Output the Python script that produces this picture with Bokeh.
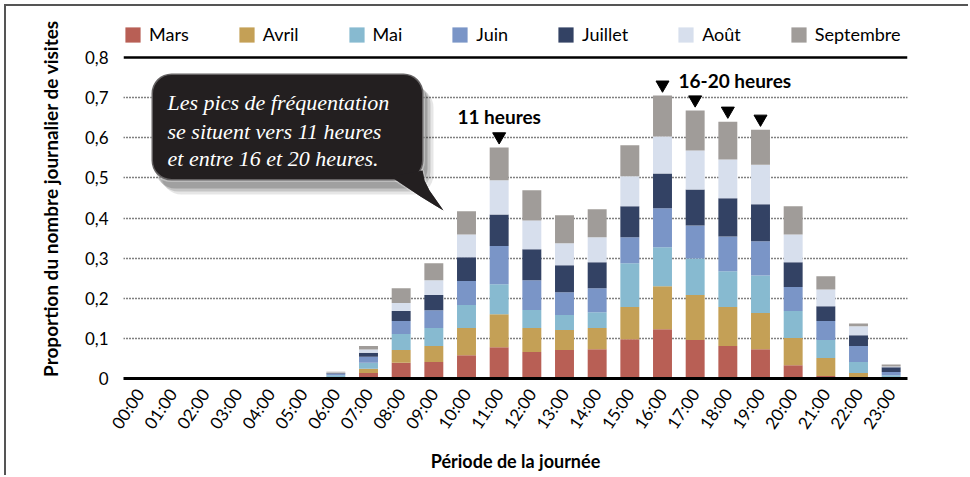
import numpy as np
from bokeh.plotting import figure
from bokeh.models import (ColumnDataSource, Range1d, LinearAxis, FixedTicker, Legend, LegendItem,
                          BoxAnnotation, PolyAnnotation, Label, Span)
from bokeh.core.properties import value
from bokeh.embed import file_html
from bokeh.resources import INLINE

# ---------------- data ----------------
hours = ["00:00", "01:00", "02:00", "03:00", "04:00", "05:00", "06:00", "07:00",
         "08:00", "09:00", "10:00", "11:00", "12:00", "13:00", "14:00", "15:00",
         "16:00", "17:00", "18:00", "19:00", "20:00", "21:00", "22:00", "23:00"]
months = ["Mars", "Avril", "Mai", "Juin", "Juillet", "Août", "Septembre"]
colors = ["#b85f55", "#c4a056", "#87bad0", "#7a95c7", "#334264", "#d7dfed", "#a09c99"]

mars      = [0.0005, 0.0005, 0.0005, 0.0005, 0.0002, 0.0005, 0.001, 0.014, 0.039, 0.041, 0.058, 0.078,
             0.066, 0.071, 0.073, 0.098, 0.123, 0.096, 0.081, 0.073, 0.033, 0.006, 0.002, 0.001]
avril     = [0.0005, 0.0005, 0.0005, 0.0005, 0.0001, 0.0005, 0.002, 0.010, 0.032, 0.040, 0.068, 0.082,
             0.060, 0.050, 0.053, 0.080, 0.107, 0.112, 0.097, 0.090, 0.068, 0.045, 0.012, 0.002]
mai       = [0.0005, 0.0005, 0.0005, 0.0005, 0.0001, 0.0005, 0.005, 0.015, 0.040, 0.045, 0.057, 0.075,
             0.045, 0.037, 0.039, 0.109, 0.097, 0.091, 0.089, 0.094, 0.067, 0.045, 0.027, 0.005]
juin      = [0.0005, 0.0005, 0.0005, 0.0005, 0.0001, 0.0005, 0.003, 0.015, 0.032, 0.044, 0.060, 0.095,
             0.074, 0.057, 0.060, 0.065, 0.097, 0.082, 0.087, 0.085, 0.060, 0.047, 0.040, 0.008]
juillet   = [0.0005, 0.0005, 0.0010, 0.0005, 0.0001, 0.0005, 0.002, 0.010, 0.025, 0.038, 0.059, 0.079,
             0.077, 0.067, 0.065, 0.077, 0.087, 0.090, 0.095, 0.092, 0.062, 0.037, 0.027, 0.012]
aout      = [0.0005, 0.0005, 0.0005, 0.0010, 0.0001, 0.0005, 0.002, 0.008, 0.020, 0.037, 0.057, 0.085,
             0.072, 0.055, 0.062, 0.075, 0.092, 0.097, 0.097, 0.099, 0.069, 0.042, 0.022, 0.002]
septembre = [0.0010, 0.0005, 0.0005, 0.0005, 0.0001, 0.0010, 0.002, 0.009, 0.037, 0.042, 0.058, 0.082,
             0.075, 0.070, 0.070, 0.077, 0.102, 0.100, 0.094, 0.087, 0.070, 0.033, 0.007, 0.005]

peak_hours = ["11:00", "16:00", "17:00", "18:00", "19:00"]

y_ticks = [0.0, 0.1, 0.2, 0.3, 0.4, 0.5, 0.6, 0.7, 0.8]
y_tick_labels = ["0", "0,1", "0,2", "0,3", "0,4", "0,5", "0,6", "0,7", "0,8"]

callout_lines = ["Les pics de fréquentation", "se situent vers 11 heures", "et entre 16 et 20 heures."]

# ---------------- figure ----------------
SANS = "Lato"
W, H = 964, 471
FL, FR, FB = 117, 901, 372       # frame edges in canvas px
Y80 = 51                          # canvas y of the 0,8 line
FT = 12                           # frame top (room for legend inside the frame)
n = len(hours)
YMAX = 0.8 * (FB - FT) / (FB - Y80)

p = figure(width=W, height=H, output_backend="svg", toolbar_location=None,
           x_range=Range1d(0, n), y_range=Range1d(0, YMAX),
           x_axis_location=None, min_border_left=FL, min_border_right=W - FR,
           min_border_top=FT, min_border_bottom=H - FB,
           styles={"margin-left": "4px", "margin-top": "4px",
                   "border-top": "2px solid #555", "border-left": "2px solid #555"})
p.outline_line_color = None
p.background_fill_color = "white"

def dx(canvas_x):
    return (canvas_x - FL) / (FR - FL) * n

def dy(canvas_y):
    return (FB - canvas_y) / (FB - Y80) * 0.8

xs = [i + 0.5 for i in range(n)]
data = dict(x=xs)
for m, v in zip(months, [mars, avril, mai, juin, juillet, aout, septembre]):
    data[m] = v
src = ColumnDataSource(data)
rs = p.vbar_stack(months, x="x", width=0.58, color=colors, line_color=None, source=src)

# y axis
yax = p.yaxis[0]
yax.ticker = FixedTicker(ticks=y_ticks)
yax.bounds = (0, 0.8)
yax.major_label_overrides = {t: l for t, l in zip(y_ticks, y_tick_labels)}
yax.axis_line_color = None
yax.major_tick_line_color = None
yax.minor_tick_line_color = None
yax.major_label_standoff = 9
yax.major_label_text_font = SANS
yax.major_label_text_font_size = "17px"
yax.major_label_text_color = "black"
yax.axis_label = "Proportion du nombre journalier de visites"
yax.axis_label_text_font = SANS
yax.axis_label_text_font_size = "19px"
yax.axis_label_text_font_style = "bold"
yax.axis_label_text_color = "black"
yax.axis_label_standoff = 20

p.xgrid.visible = False
p.ygrid.ticker = FixedTicker(ticks=y_ticks[1:-1])
p.ygrid.grid_line_color = "black"
p.ygrid.grid_line_dash = "1 2"
p.ygrid.grid_line_width = 1.3
p.add_layout(Span(location=0.8, dimension="width", line_color="black", line_width=2.5))

# x axis
p.extra_x_ranges = {"lab": Range1d(0, n)}
xax = LinearAxis(x_range_name="lab")
xax.ticker = FixedTicker(ticks=xs)
xax.major_label_overrides = {x: h for x, h in zip(xs, hours)}
xax.major_label_orientation = 0.98
xax.axis_line_color = "black"
xax.axis_line_width = 3
xax.major_tick_line_color = None
xax.minor_tick_line_color = None
xax.major_label_standoff = 6
xax.major_label_text_font = SANS
xax.major_label_text_font_size = "17px"
xax.major_label_text_color = "black"
xax.axis_label = "Période de la journée"
xax.axis_label_text_font = SANS
xax.axis_label_text_font_size = "18px"
xax.axis_label_text_font_style = "bold"
xax.axis_label_text_color = "black"
xax.axis_label_standoff = 9
p.add_layout(xax, "below")

# legend inside the (extended) frame, above the 0,8 line
legend = Legend(items=[LegendItem(label=m, renderers=[r]) for m, r in zip(months, rs)],
                orientation="horizontal", location=(0, FB - 39),
                padding=0, margin=0, spacing=48, glyph_width=19, glyph_height=19,
                label_height=19, label_standoff=7, border_line_color=None,
                background_fill_alpha=0, label_text_font=SANS, label_text_font_size="18px",
                label_text_color="black")
p.add_layout(legend, "center")

# peak markers
totals = [sum(v) for v in zip(mars, avril, mai, juin, juillet, aout, septembre)]
pk_x = [xs[hours.index(h)] for h in peak_hours]
pk_y = [totals[hours.index(h)] + 0.027 for h in peak_hours]
p.scatter(pk_x, pk_y, marker="inverted_triangle", size=13, color="black")

p.add_layout(Label(x=xs[hours.index("11:00")], y=dy(110), text="11 heures", text_align="center",
                   text_baseline="middle", text_font=SANS, text_font_size="19px",
                   text_font_style="bold", text_color="black"))
p.add_layout(Label(x=dx(672), y=dy(74), text="16-20 heures", text_align="left",
                   text_baseline="middle", text_font=SANS, text_font_size="19px",
                   text_font_style="bold", text_color="black"))

# callout bubble
bl, br, bt, bb = 145, 417, 67, 174   # canvas px
for off, a in [(10, 0.12), (7, 0.18), (4, 0.25)]:
    p.add_layout(BoxAnnotation(left=dx(bl + off), right=dx(br + off), top=dy(bt + off + 4),
                               bottom=dy(bb + off + 4), fill_color="#333333", fill_alpha=a,
                               line_color=None, border_radius=20))
tail_px = [(384, 170), (399, 180), (414, 190), (427, 198), (437, 204), (430, 194),
           (423, 184), (418, 174), (416, 164)]
tail_x = [dx(a) for a, b in tail_px]
tail_y = [dy(b) for a, b in tail_px]
p.add_layout(PolyAnnotation(xs=tail_x, ys=tail_y, fill_color="#231f20", fill_alpha=1,
                            line_color="white", line_width=3))
p.add_layout(BoxAnnotation(left=dx(bl), right=dx(br), top=dy(bt), bottom=dy(bb),
                           fill_color="#231f20", fill_alpha=1, line_color="white",
                           line_width=3, border_radius=20))
p.add_layout(PolyAnnotation(xs=tail_x, ys=tail_y, fill_color="#231f20", fill_alpha=1,
                            line_color=None))
for i, (line, yy) in enumerate(zip(callout_lines, [96, 125, 152])):
    p.add_layout(Label(x=dx(161), y=dy(yy), text=line, text_align="left", text_baseline="middle",
                       text_font="Liberation Serif", text_font_style="italic",
                       text_font_size="22px", text_color="white"))

open("out.html", "w").write(file_html(p, INLINE))
